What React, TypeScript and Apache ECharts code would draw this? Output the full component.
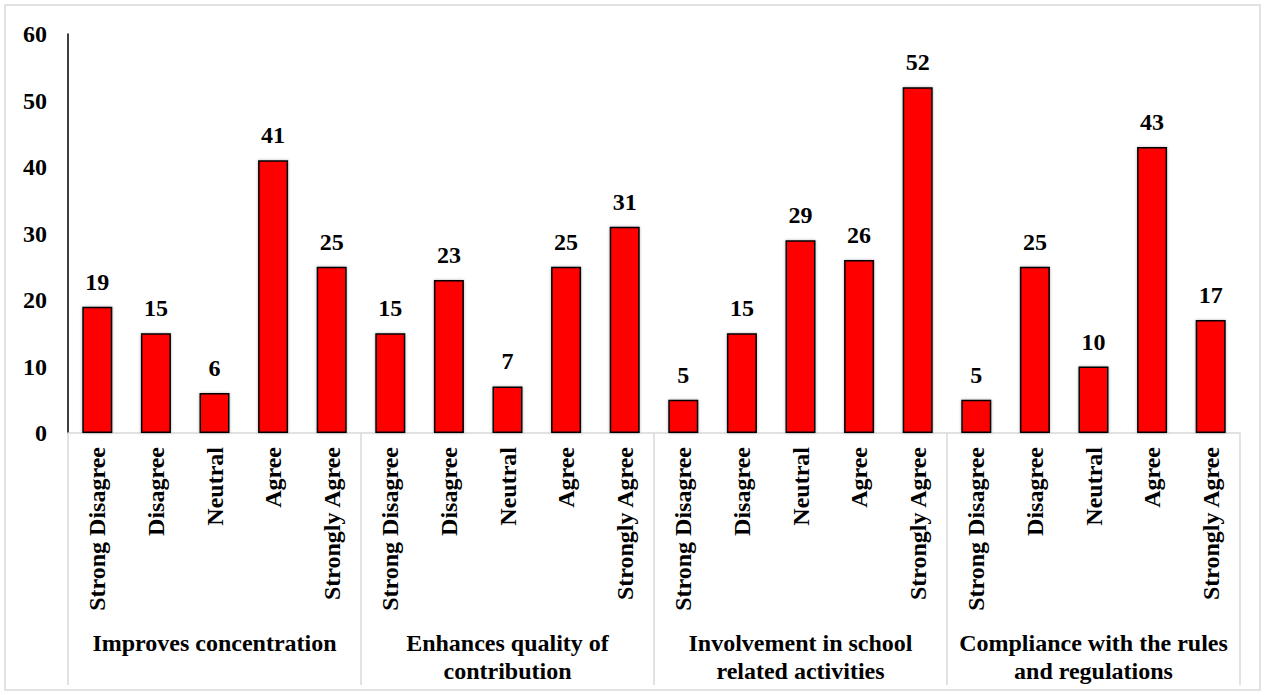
import React, { useEffect, useRef } from "react";
import * as echarts from "echarts";

const responses = ["Strong Disagree", "Disagree", "Neutral", "Agree", "Strongly Agree"];
const groups = [
  "Improves concentration",
  "Enhances quality of\ncontribution",
  "Involvement in school\nrelated activities",
  "Compliance with the rules\nand regulations",
];
const improvesConcentration = [19, 15, 6, 41, 25];
const enhancesQuality = [15, 23, 7, 25, 31];
const involvementSchool = [5, 15, 29, 26, 52];
const complianceRules = [5, 25, 10, 43, 17];
const yTicks = { min: 0, max: 60, interval: 10 };

const FONT = "'Liberation Serif', 'Times New Roman', serif";

export default function App() {
  const ref = useRef<HTMLDivElement>(null);
  useEffect(() => {
    if (!ref.current) return;
    const chart = echarts.init(ref.current, undefined, { renderer: "svg" });
    const categories: string[] = [];
    groups.forEach(() => responses.forEach((r) => categories.push(r)));
    const values = [
      ...improvesConcentration,
      ...enhancesQuality,
      ...involvementSchool,
      ...complianceRules,
    ];
    chart.setOption({
      animation: false,
      textStyle: { fontFamily: FONT },
      graphic: [
        {
          type: "rect",
          shape: { x: 5, y: 5, width: 1255, height: 685 },
          style: { fill: "none", stroke: "#d9d9d9", lineWidth: 1.5 },
          silent: true,
        },
      ],
      grid: { left: 68, right: 26, top: 34, bottom: 262, containLabel: false },
      xAxis: [
        {
          type: "category",
          data: categories,
          axisLine: { show: true, lineStyle: { color: "#d9d9d9", width: 1.5 } },
          axisTick: { show: false },
          axisLabel: {
            interval: 0,
            rotate: 90,
            margin: 14,
            fontFamily: FONT,
            fontWeight: "bold",
            fontSize: 24,
            color: "#000",
          },
        },
        {
          type: "category",
          data: groups,
          position: "bottom",
          axisLine: { show: false },
          axisTick: {
            show: true,
            interval: 0,
            length: 252,
            lineStyle: { color: "#d9d9d9", width: 1.5 },
          },
          axisLabel: {
            interval: 0,
            margin: 196,
            fontFamily: FONT,
            fontWeight: "bold",
            fontSize: 24,
            lineHeight: 28,
            color: "#000",
            align: "center",
          },
        },
      ],
      yAxis: {
        type: "value",
        min: yTicks.min,
        max: yTicks.max,
        interval: yTicks.interval,
        axisLine: { show: true, lineStyle: { color: "#000", width: 1.5 } },
        axisTick: { show: false },
        splitLine: { show: false },
        axisLabel: {
          margin: 21,
          fontFamily: FONT,
          fontWeight: "bold",
          fontSize: 24,
          color: "#000",
        },
      },
      series: [
        {
          type: "bar",
          data: values,
          barWidth: 30,
          itemStyle: {
            color: "#ff0000",
            borderColor: "#000",
            borderWidth: 1.5,
            shadowColor: "rgba(0,0,0,0.3)",
            shadowBlur: 3,
          },
          label: {
            show: true,
            position: "top",
            distance: 13,
            fontFamily: FONT,
            fontWeight: "bold",
            fontSize: 24,
            color: "#000",
          },
        },
      ],
    });
    return () => chart.dispose();
  }, []);
  return (
    <div
      ref={ref}
      style={{ position: "absolute", left: 0, top: 0, width: 1266, height: 695, background: "#fff" }}
    />
  );
}
